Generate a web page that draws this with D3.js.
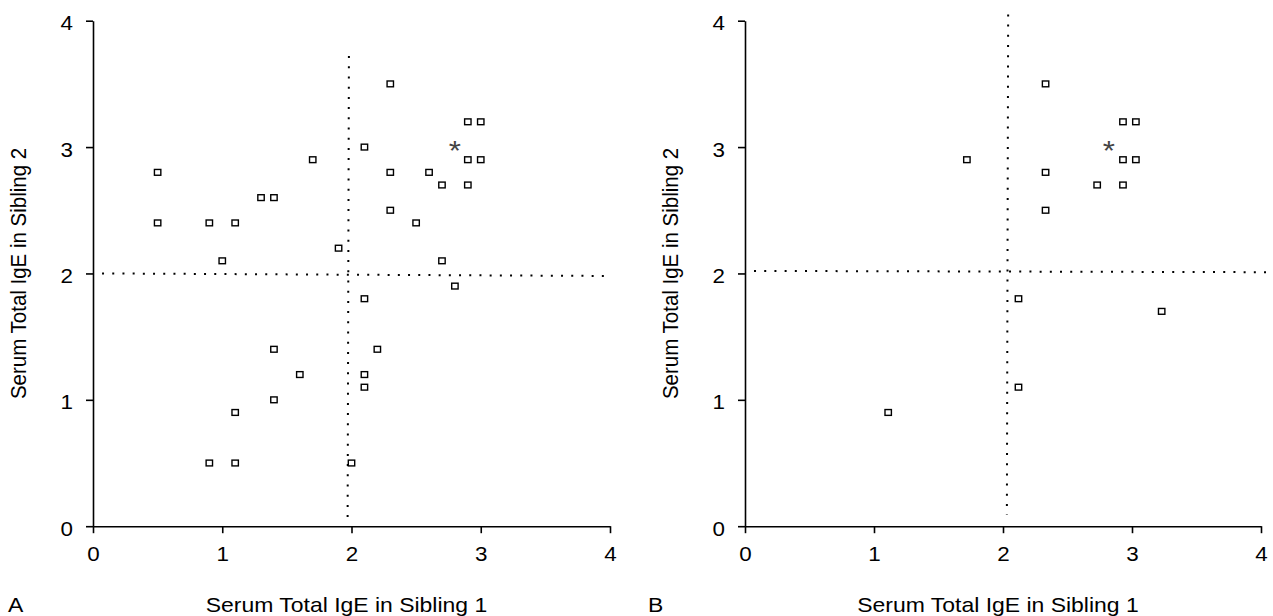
<!DOCTYPE html>
<html>
<head>
<meta charset="utf-8">
<script src="https://cdn.jsdelivr.net/npm/d3@7"></script>
<style>
  body { margin: 0; background: #fff; }
  text { font-family: "Liberation Sans", Arial, sans-serif; fill: #000; }
</style>
</head>
<body>
<svg id="chart" width="1273" height="616"></svg>
<script>
// axis ticks, both panels
const tickValues = [0, 1, 2, 3, 4];
const xTitle = 'Serum Total IgE in Sibling 1';
const yTitle = 'Serum Total IgE in Sibling 2';

// panel A: sibling pairs [sibling 1, sibling 2]
const pairsA = [
  [0.5, 2.8], [0.5, 2.4], [0.9, 2.4], [1.1, 2.4], [1.0, 2.1],
  [1.3, 2.6], [1.4, 2.6], [1.7, 2.9], [1.9, 2.2], [2.1, 3.0],
  [2.3, 3.5], [2.3, 2.8], [2.3, 2.5], [2.5, 2.4], [2.6, 2.8],
  [2.7, 2.7], [2.7, 2.1], [2.8, 1.9], [2.9, 3.2], [3.0, 3.2],
  [2.9, 2.9], [3.0, 2.9], [2.9, 2.7], [2.1, 1.8], [1.4, 1.4],
  [2.2, 1.4], [1.6, 1.2], [2.1, 1.2], [2.1, 1.1], [1.4, 1.0],
  [1.1, 0.9], [0.9, 0.5], [1.1, 0.5], [2.0, 0.5]
];
const starA = [2.8, 3.0];
// dotted cut-off lines: [start, end]
const cutsA = [
  [[1.98, 3.72], [1.97, 0.07]],
  [[0.07, 2.0], [3.96, 1.98]]
];

// panel B
const pairsB = [
  [2.33, 3.5], [2.93, 3.2], [3.03, 3.2], [2.93, 2.9], [3.03, 2.9],
  [1.72, 2.9], [2.33, 2.8], [2.73, 2.7], [2.93, 2.7], [2.33, 2.5],
  [2.12, 1.8], [3.23, 1.7], [2.12, 1.1], [1.11, 0.9]
];
const starB = [2.82, 3.0];
const cutsB = [
  [[2.04, 4.05], [2.03, 0.09]],
  [[0.07, 2.02], [4.05, 2.01]]
];

const svg = d3.select('#chart');
const sx = 1.12; // the figure is a bit wider than tall

const y = d3.scaleLinear().domain([0, 4]).range([526.2, 20.7]);

function stretchText(sel) {
  sel.selectAll('.tick text').each(function() {
    let t = d3.select(this);
    let tx = +t.attr('x') || 0, ty = +t.attr('y') || 0;
    t.attr('x', 0).attr('y', 0)
      .attr('transform', `translate(${tx},${ty}) scale(${sx},1)`);
  });
}

function drawPanel(x0, x1, pairs, star, cuts, letter, letterX) {
  let x = d3.scaleLinear().domain([0, 4]).range([x0, x1]);
  let g = svg.append('g');

  // x axis
  let gx = g.append('g')
    .attr('transform', `translate(0,${y(0)})`)
    .call(d3.axisBottom(x).tickValues(tickValues).tickFormat(d3.format('d'))
      .tickSize(7).tickSizeOuter(0).tickPadding(14));
  // y axis
  let gy = g.append('g')
    .attr('transform', `translate(${x(0)},0)`)
    .call(d3.axisLeft(y).tickValues(tickValues).tickFormat(d3.format('d'))
      .tickSize(7).tickSizeOuter(0).tickPadding(13));

  [gx, gy].forEach(a => {
    a.select('.domain').attr('stroke', '#000').attr('stroke-width', 1.6);
    a.selectAll('.tick line').attr('stroke', '#000').attr('stroke-width', 1.6);
    a.selectAll('.tick text').style('font-size', '20px')
      .style('font-family', '"Liberation Sans", Arial, sans-serif').attr('fill', '#000');
    stretchText(a);
  });
  gy.selectAll('.tick text').attr('dy', '0.45em');

  // dotted lines
  g.selectAll('line.cut')
    .data(cuts)
    .enter()
    .append('line')
    .attr('class', 'cut')
    .attr('x1', d => x(d[0][0]))
    .attr('y1', d => y(d[0][1]))
    .attr('x2', d => x(d[1][0]))
    .attr('y2', d => y(d[1][1]))
    .attr('stroke', '#000')
    .attr('stroke-width', 2)
    .attr('stroke-dasharray', '2 8.2');

  // points
  g.selectAll('rect.pt')
    .data(pairs)
    .enter()
    .append('rect')
    .attr('class', 'pt')
    .attr('x', d => x(d[0]) - 3.2)
    .attr('y', d => y(d[1]) - 2.9)
    .attr('width', 6.4)
    .attr('height', 5.8)
    .attr('fill', '#fff')
    .attr('stroke', '#000')
    .attr('stroke-width', 1.4);

  // asterisk
  g.append('text')
    .attr('transform', `translate(${x(star[0])},${y(star[1]) + 13}) scale(${sx},1)`)
    .attr('text-anchor', 'middle')
    .style('font-size', '28px')
    .style('fill', '#444')
    .text('*');

  // x title
  g.append('text')
    .attr('transform', `translate(${(x0 + x1) / 2 - 5},612) scale(${sx},1)`)
    .attr('text-anchor', 'middle')
    .style('font-size', '20.5px')
    .text(xTitle);

  // y title
  g.append('text')
    .attr('transform', `translate(${x0 - 67},${(y(0) + y(4)) / 2}) rotate(-90) scale(1,${sx})`)
    .attr('text-anchor', 'middle')
    .style('font-size', '20.5px')
    .text(yTitle);

  // panel letter
  g.append('text')
    .attr('transform', `translate(${letterX},612) scale(${sx},1)`)
    .style('font-size', '20.5px')
    .text(letter);
}

drawPanel(93, 610, pairsA, starA, cutsA, 'A', 8);
drawPanel(745, 1261, pairsB, starB, cutsB, 'B', 648);
</script>
</body>
</html>
